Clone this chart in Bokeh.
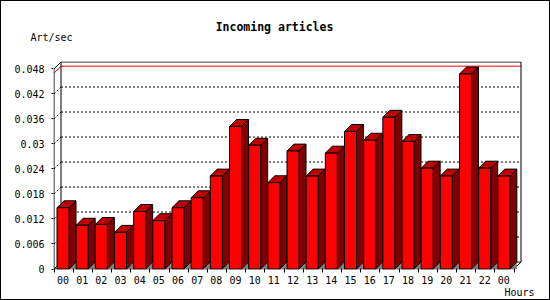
from bokeh.plotting import figure
from bokeh.layouts import column
from bokeh.models import Range1d, FixedTicker, Label, Title
from bokeh.embed import file_html
from bokeh.resources import INLINE

# ---- data ----
hours = ["00", "01", "02", "03", "04", "05", "06", "07", "08", "09", "10", "11",
         "12", "13", "14", "15", "16", "17", "18", "19", "20", "21", "22", "00"]
rates = [0.0147, 0.0105, 0.0107, 0.0088, 0.0138, 0.0116, 0.0147, 0.0171,
         0.0223, 0.0342, 0.0297, 0.0207, 0.0283, 0.0223, 0.0278, 0.0330,
         0.0309, 0.0364, 0.0306, 0.0242, 0.0223, 0.0468, 0.0242, 0.0223]
y_ticks = [0, 0.006, 0.012, 0.018, 0.024, 0.03, 0.036, 0.042, 0.048]
y_tick_labels = ["0", "0.006", "0.012", "0.018", "0.024", "0.03", "0.036", "0.042", "0.048"]
max_line = 0.0470
title_text = "Incoming articles"
y_title = "Art/sec"
x_title = "Hours"

# ---- geometry (pixel scale of the chart) ----
N = len(rates)
SLOT_PX = 460 / 24.0          # px per hour slot
Y_PX = 202 / 0.048            # px per unit of rate
DEPTH = 7                     # 3D depth in px
ddx = DEPTH / SLOT_PX
ddy = DEPTH / Y_PX
X0_PAGE = 53.5                # page x of data x=0
Y0_PAGE = 270.5               # page y of data y=0
W = 548                       # inner width (plus 1px css border each side)
HEAD_H = 60                   # header strip (page y 1..61)
MAIN_H = 238                  # chart (page y 61..299)
FRAME_L, FRAME_R, FRAME_T, FRAME_B = 53, W + 1, 61, 271   # page coords


def X(px):
    return (px - X0_PAGE) / SLOT_PX


def Y(py):
    return (Y0_PAGE - py) / Y_PX


top_val = y_ticks[-1]
FONT = "DejaVu Sans Mono"

# ---- header with title and unit ----
head = figure(width=W, height=HEAD_H, output_backend="svg", toolbar_location=None,
              x_range=Range1d(X(1), X(W + 1)), y_range=Range1d(Y(1 + HEAD_H), Y(1)),
              x_axis_type=None, y_axis_type=None,
              min_border_left=0, min_border_right=0, min_border_top=0, min_border_bottom=0)
head.frame_align = False
head.outline_line_color = None
head.grid.visible = False
head.add_layout(Label(x=X(274), y=Y(26.5), text=title_text, text_align="center",
                      text_baseline="middle", text_font=FONT, text_font_style="bold",
                      text_font_size="11.5px", text_color="black"))
head.add_layout(Label(x=X(30), y=Y(36.5), text=y_title, text_align="left",
                      text_baseline="middle", text_font=FONT,
                      text_font_size="10px", text_color="black"))

# ---- main chart ----
p = figure(width=W, height=MAIN_H, output_backend="svg", toolbar_location=None,
           x_range=Range1d(X(FRAME_L), X(FRAME_R)),
           y_range=Range1d(Y(FRAME_B), Y(FRAME_T)),
           min_border_left=FRAME_L - 1, min_border_right=(W + 1) - FRAME_R,
           min_border_top=0, min_border_bottom=(FRAME_T + MAIN_H) - FRAME_B)
p.frame_align = False
p.outline_line_color = None
p.grid.visible = False
p.background_fill_color = "white"
p.border_fill_color = "white"

# y axis
p.yaxis.ticker = FixedTicker(ticks=y_ticks, minor_ticks=[])
p.yaxis.major_label_overrides = dict(zip(y_ticks, y_tick_labels))
p.yaxis.axis_line_color = None
p.yaxis.major_tick_in = 0
p.yaxis.major_tick_out = 2
p.yaxis.major_tick_line_color = "black"
p.yaxis.minor_tick_line_color = None
p.yaxis.major_label_standoff = 7
p.yaxis.major_label_text_font = FONT
p.yaxis.major_label_text_font_size = "10px"
p.yaxis.major_label_text_color = "black"

# x axis: labels at bar centers, tick marks at slot boundaries
x_label_pos = [i + 0.47 for i in range(N)]
p.xaxis.ticker = FixedTicker(ticks=x_label_pos, minor_ticks=list(range(N + 1)))
p.xaxis.major_label_overrides = dict(zip(x_label_pos, hours))
p.xaxis.axis_line_color = None
p.xaxis.major_tick_in = 0
p.xaxis.major_tick_out = 0
p.xaxis.major_tick_line_color = None
p.xaxis.minor_tick_in = 1
p.xaxis.minor_tick_out = 3
p.xaxis.minor_tick_line_color = "black"
p.xaxis.major_label_standoff = 3
p.xaxis.major_label_text_font = FONT
p.xaxis.major_label_text_font_size = "10px"
p.xaxis.major_label_text_color = "black"

# ---- box (walls) ----
grid_vals = y_ticks[1:-1]
p.segment(x0=[ddx] * len(grid_vals), y0=[v + ddy for v in grid_vals],
          x1=[N + ddx] * len(grid_vals), y1=[v + ddy for v in grid_vals],
          line_color="black", line_width=1, line_dash="2 2")
p.segment(x0=[0] * len(grid_vals), y0=grid_vals,
          x1=[ddx] * len(grid_vals), y1=[v + ddy for v in grid_vals],
          line_color="black", line_width=1, line_dash="2 2")
p.segment(x0=[0, ddx], y0=[max_line, max_line + ddy],
          x1=[ddx, N + ddx], y1=[max_line + ddy, max_line + ddy],
          line_color="#ff0000", line_width=1)
sx0 = [0, 0, ddx, ddx, N + ddx, 0, ddx, N, 0]
sy0 = [0, top_val, ddy, top_val + ddy, ddy, 0, ddy, 0, 0]
sx1 = [0, ddx, ddx, N + ddx, N + ddx, ddx, N + ddx, N + ddx, N]
sy1 = [top_val, top_val + ddy, top_val + ddy, top_val + ddy, top_val + ddy, ddy, ddy, ddy, 0]
p.segment(x0=sx0, y0=sy0, x1=sx1, y1=sy1, line_color="black", line_width=1)

# ---- bars ----
off = 3 / SLOT_PX
bw = 12 / SLOT_PX
lefts = [i + off for i in range(N)]
rights = [l + bw for l in lefts]

p.patches(xs=[[r, r + ddx, r + ddx] for r in rights],
          ys=[[0, 0, ddy] for _ in rights],
          fill_color="#808080", line_color=None)
p.patches(xs=[[r, r + ddx, r + ddx, r] for r in rights],
          ys=[[0, ddy, v + ddy, v] for v in rates],
          fill_color="#800000", line_color="black", line_width=1)
p.patches(xs=[[l, r, r + ddx, l + ddx] for l, r in zip(lefts, rights)],
          ys=[[v, v, v + ddy, v + ddy] for v in rates],
          fill_color="#c00000", line_color="black", line_width=1)
p.quad(left=lefts, right=rights, bottom=[0] * N, top=rates,
       fill_color="#ff0000", line_color="black", line_width=1)

p.add_layout(Title(text=x_title, align="right", vertical_align="top", standoff=0,
                   offset=15, text_font=FONT, text_font_size="10px",
                   text_font_style="normal", text_color="black"), "below")

layout = column(head, p, spacing=0, styles={"border": "1px solid black"})

open("out.html", "w").write(file_html(layout, INLINE))
